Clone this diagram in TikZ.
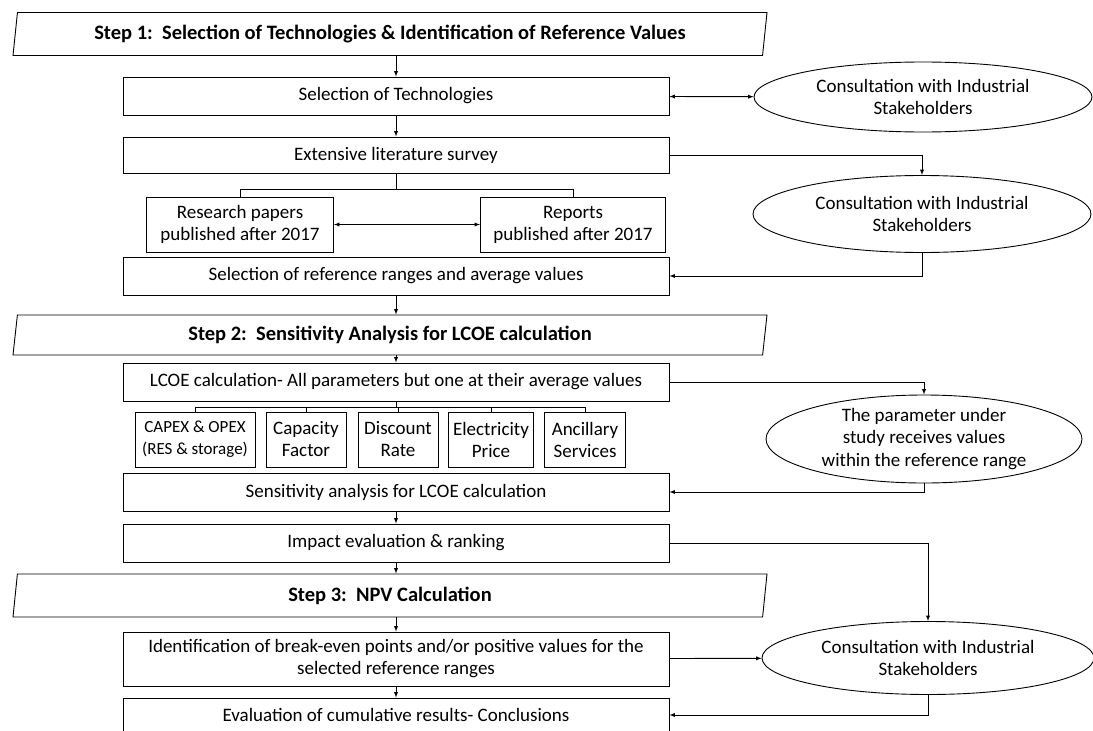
\documentclass[tikz,border=0pt]{standalone}
\usepackage{fontspec}
\setmainfont{Carlito}
\usetikzlibrary{arrows, shapes.geometric}

\begin{document}
\begin{tikzpicture}[x=1pt, y=-1pt, >=latex, line width=0.9pt,
		box/.style={draw, rectangle, align=center, inner sep=0pt, font=\fontsize{19}{22}\selectfont},
		stepbox/.style={draw, trapezium, trapezium left angle=76, trapezium right angle=104,
			trapezium stretches body, minimum width=754pt, minimum height=43pt, inner sep=0pt,
			font=\fontsize{20.5}{22}\selectfont\bfseries},
		cons/.style={draw, ellipse, align=center, inner sep=0pt, font=\fontsize{19}{22.5}\selectfont}]
		% Bildbereich
		\useasboundingbox (0,0) rectangle (1093,731);
		% Schritt 1
		\node[stepbox] (step1) at (390,34) {Step 1:\ \ Selection of Technologies \& Identification of Reference Values};
		\node[box, minimum width=546pt, minimum height=38pt] (seltech) at (396,96) {Selection of Technologies};
		\node[box, minimum width=546pt, minimum height=36pt] (litsurvey) at (396,155) {Extensive literature survey};
		\node[box, minimum width=187pt, minimum height=55pt] (papers) at (240,224.5) {Research papers\\published after 2017};
		\node[box, minimum width=185pt, minimum height=55pt] (reports) at (573,224.5) {Reports\\published after 2017};
		\node[box, minimum width=546pt, minimum height=38pt] (selref) at (396,276) {Selection of reference ranges and average values};
		\node[cons, minimum width=338pt, minimum height=70pt] (cons1) at (923,97) {Consultation with Industrial\\Stakeholders};
		\node[cons, minimum width=338pt, minimum height=77pt] (cons2) at (922,214) {Consultation with Industrial\\Stakeholders};
		% Schritt 2
		\node[stepbox, minimum height=40pt] (step2) at (390,335) {Step 2:\ \ Sensitivity Analysis for LCOE calculation};
		\node[box, minimum width=546pt, minimum height=38pt] (lcoe) at (396,382) {LCOE calculation- All parameters but one at their average values};
		\node[box, minimum width=120pt, minimum height=55pt, font=\fontsize{17}{22}\selectfont] (par1) at (195,439.5) {CAPEX \& OPEX\\(RES \& storage)};
		\node[box, minimum width=80pt, minimum height=55pt] (par2) at (306,439.5) {Capacity\\Factor};
		\node[box, minimum width=80pt, minimum height=55pt] (par3) at (398,439.5) {Discount\\Rate};
		\node[box, minimum width=85pt, minimum height=55pt] (par4) at (491,439.5) {Electricity\\Price};
		\node[box, minimum width=81pt, minimum height=55pt] (par5) at (585,439.5) {Ancillary\\Services};
		\node[box, minimum width=546pt, minimum height=38pt] (sens) at (396,492) {Sensitivity analysis for LCOE calculation};
		\node[box, minimum width=546pt, minimum height=38pt] (impact) at (396,543) {Impact evaluation \& ranking};
		\node[cons, minimum width=316pt, minimum height=88pt] (param) at (924,439) {The parameter under\\study receives values\\within the reference range};
		% Schritt 3
		\node[stepbox] (step3) at (390,595.5) {Step 3:\ \ NPV Calculation};
		\node[box, minimum width=546pt, minimum height=54pt] (breakeven) at (396,659) {Identification of break-even points and/or positive values for the\\selected reference ranges};
		\node[box, minimum width=546pt, minimum height=34pt] (evalres) at (396,715) {Evaluation of cumulative results- Conclusions};
		\node[cons, minimum width=332pt, minimum height=73pt] (cons3) at (928,658) {Consultation with Industrial\\Stakeholders};
		% Pfeile in der Mitte
		\draw[->] (seltech.north |- step1.south) -- (seltech.north);
		\draw[->] (seltech) -- (litsurvey);
		\draw (litsurvey.south) -- ++(0,16) coordinate (fork1);
		\draw (papers.north) |- (fork1) -| (reports.north);
		\draw[<->] (papers) -- (reports);
		\draw[->] (selref.south) -- (selref.south |- step2.north);
		\draw[->] (selref.south |- step2.south) -- (lcoe.north);
		\draw (lcoe.south) -- ++(0,6) coordinate (fork2);
		\draw (par1.north) |- (fork2) -| (par5.north);
		\foreach \p in {par2, par3, par4} \draw (\p.north) -- (\p.north |- fork2);
		\draw[->] (sens) -- (impact);
		\draw[->] (impact.south) -- (impact.south |- step3.north);
		\draw[->] (impact.south |- step3.south) -- (breakeven.north);
		\draw[->] (breakeven) -- (evalres);
		% Pfeile zu den Ellipsen
		\draw[<->] (seltech) -- (cons1);
		\draw[->] (litsurvey.east) -| (cons2.north);
		\draw[->] (cons2.south) |- (selref.east);
		\draw[->] (lcoe.east) -| (param.north);
		\draw[->] (param.south) |- (sens.east);
		\draw[->] (impact.east) -| (cons3.north);
		\draw[->] (breakeven) -- (cons3);
		\draw[->] (cons3.south) |- (evalres.east);
	\end{tikzpicture}
\end{document}
